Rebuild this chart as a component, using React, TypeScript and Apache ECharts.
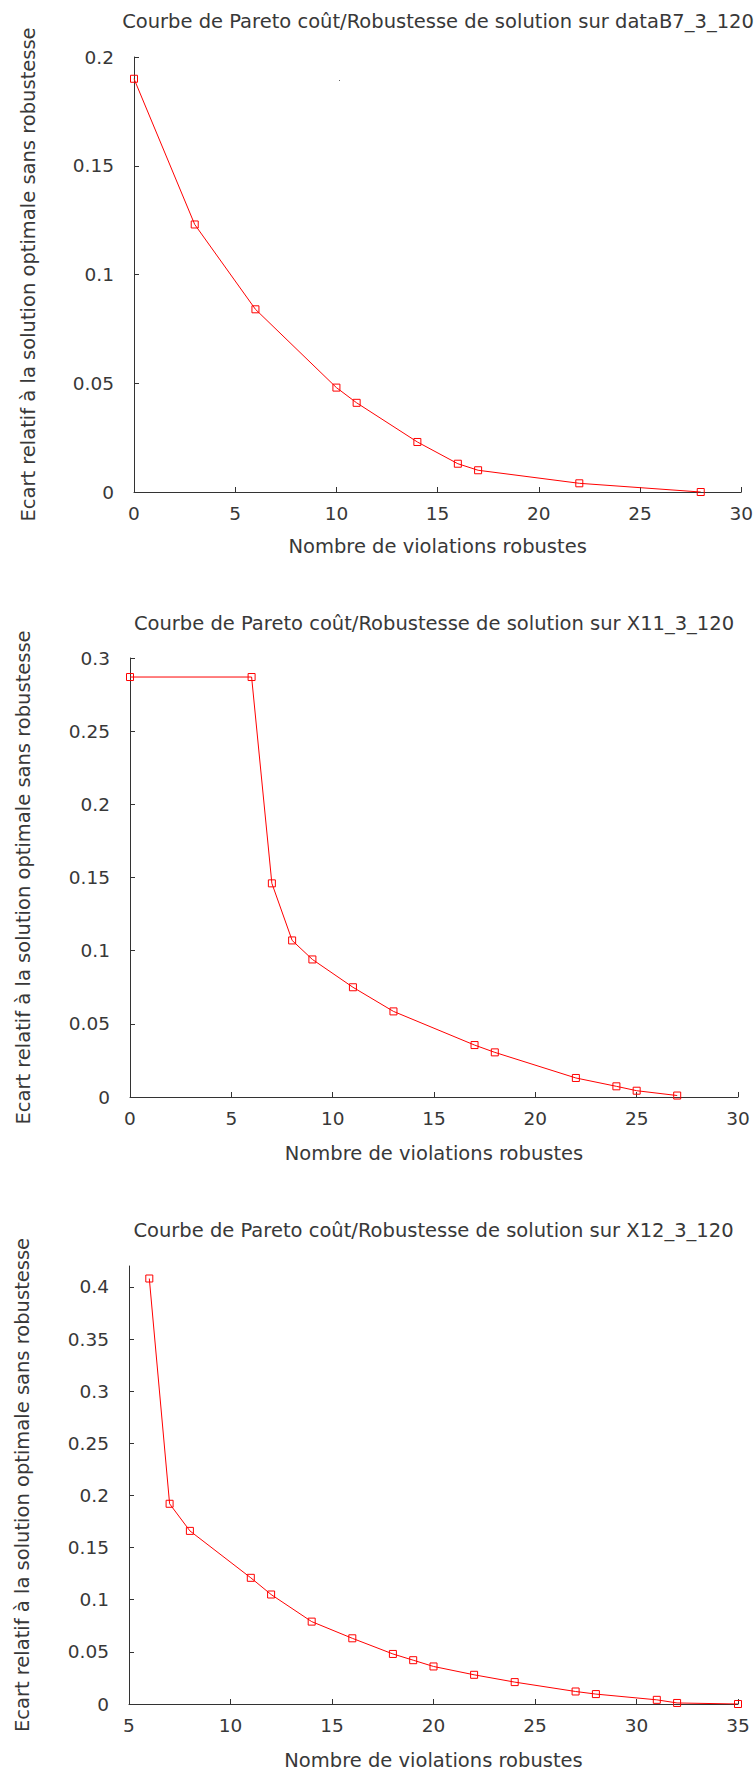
import React, { useEffect, useRef } from "react";
import * as echarts from "echarts";

// ---- Data ----
const titles = [
  "Courbe de Pareto coût/Robustesse de solution sur dataB7_3_120",
  "Courbe de Pareto coût/Robustesse de solution sur X11_3_120",
  "Courbe de Pareto coût/Robustesse de solution sur X12_3_120",
];
const xAxisName = "Nombre de violations robustes";
const yAxisName = "Ecart relatif à la solution optimale sans robustesse";

const x1 = [0, 3, 6, 10, 11, 14, 16, 17, 22, 28];
const y1 = [0.19, 0.123, 0.084, 0.048, 0.041, 0.023, 0.013, 0.01, 0.004, 0.0];

const x2 = [0, 6, 7, 8, 9, 11, 13, 17, 18, 22, 24, 25, 27];
const y2 = [0.287, 0.287, 0.146, 0.107, 0.094, 0.075, 0.0585, 0.0355, 0.0305, 0.013, 0.0073, 0.0043, 0.001];

const x3 = [6, 7, 8, 11, 12, 14, 16, 18, 19, 20, 22, 24, 27, 28, 31, 32, 35];
const y3 = [0.408, 0.192, 0.166, 0.121, 0.105, 0.079, 0.063, 0.048, 0.042, 0.036, 0.028, 0.021, 0.012, 0.0095, 0.004, 0.001, 0.0];

const xTicks1 = [0, 5, 10, 15, 20, 25, 30];
const xTicks2 = [0, 5, 10, 15, 20, 25, 30];
const xTicks3 = [5, 10, 15, 20, 25, 30, 35];
const yTicks1 = [0, 0.05, 0.1, 0.15, 0.2];
const yTicks2 = [0, 0.05, 0.1, 0.15, 0.2, 0.25, 0.3];
const yTicks3 = [0, 0.05, 0.1, 0.15, 0.2, 0.25, 0.3, 0.35, 0.4];

const FONT = "DejaVu Sans";
const TXT = "#383838";
const AX = "#333333";
const RED = "#ff0000";

const zip = (xs: number[], ys: number[]) => xs.map((x, i) => [x, ys[i]]);

const grids = [
  { left: 134, top: 57, width: 608, height: 435 },
  { left: 130, top: 658, width: 608, height: 439 },
  { left: 129, top: 1266, width: 609, height: 438 },
];
const yMax = [0.2, 0.3, 0.42];
const xRange = [
  [0, 30],
  [0, 30],
  [5, 35],
];
const xTicksAll = [xTicks1, xTicks2, xTicks3];
const yTicksAll = [yTicks1, yTicks2, yTicks3];
const seriesData = [zip(x1, y1), zip(x2, y2), zip(x3, y3)];
const titleY = [21, 623, 1230];
const yNameGap = [96, 97, 97];
const xNameGap = [44, 46, 46];

export default function App() {
  const ref = useRef<HTMLDivElement>(null);
  useEffect(() => {
    if (!ref.current) return;
    const chart = echarts.init(ref.current, undefined, { renderer: "svg" });
    const axisCommon = {
      axisLine: { show: true, lineStyle: { color: AX, width: 1 } },
      axisTick: { show: true, inside: true, length: 5, lineStyle: { color: AX } },
      splitLine: { show: false },
      axisLabel: { color: TXT, fontFamily: FONT, fontSize: 18.5 },
      nameTextStyle: { color: TXT, fontFamily: FONT, fontSize: 19.5 },
    };
    const option: any = {
      animation: false,
      backgroundColor: "#ffffff",
      grid: grids.map((g) => ({ ...g, containLabel: false })),
      xAxis: grids.map((_, i) => ({
        type: "value",
        gridIndex: i,
        min: xRange[i][0],
        max: xRange[i][1],
        interval: 5,
        name: xAxisName,
        nameLocation: "middle",
        nameGap: xNameGap[i],
        ...axisCommon,
        axisTick: { ...axisCommon.axisTick, customValues: xTicksAll[i] },
        axisLabel: { ...axisCommon.axisLabel, margin: 12, customValues: xTicksAll[i] },
      })),
      yAxis: grids.map((_, i) => ({
        type: "value",
        gridIndex: i,
        min: 0,
        max: yMax[i],
        interval: 0.05,
        name: yAxisName,
        nameLocation: "middle",
        nameGap: yNameGap[i],
        ...axisCommon,
        axisTick: { ...axisCommon.axisTick, customValues: yTicksAll[i] },
        axisLabel: { ...axisCommon.axisLabel, margin: 20, customValues: yTicksAll[i] },
      })),
      series: seriesData.map((d, i) => ({
        type: "line",
        xAxisIndex: i,
        yAxisIndex: i,
        data: d,
        symbol: "rect",
        symbolSize: 7,
        showSymbol: true,
        lineStyle: { color: RED, width: 1 },
        itemStyle: { color: "none", borderColor: RED, borderWidth: 1 },
      })),
      graphic: [
        ...titles.map((t, i) => ({
          type: "text",
          x: grids[i].left + grids[i].width / 2,
          y: titleY[i],
          style: {
            text: t,
            fill: TXT,
            font: `19.5px "${FONT}"`,
            textAlign: "center",
            textVerticalAlign: "middle",
          },
        })),
        { type: "rect", shape: { x: 339, y: 80, width: 1, height: 1 }, style: { fill: "#666" } },
      ],
    };
    chart.setOption(option);
    return () => chart.dispose();
  }, []);
  return (
    <div
      ref={ref}
      style={{ position: "absolute", left: 0, top: 0, width: 756, height: 1772, background: "#fff" }}
    />
  );
}
